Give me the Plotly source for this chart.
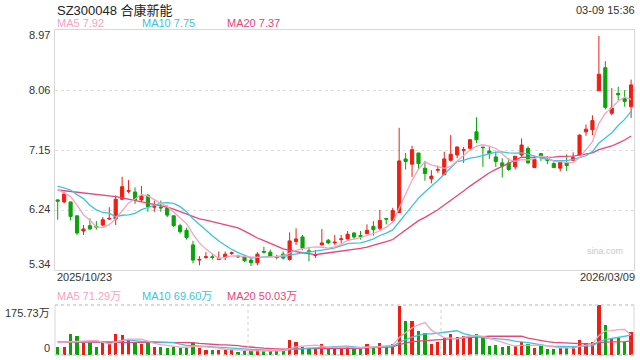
import plotly.graph_objects as go

# ---------------- data ----------------
opens = [6.40, 6.37, 6.37, 6.16, 5.93, 6.01, 6.00, 6.02, 6.11, 6.11,
         6.41, 6.53, 6.52, 6.40, 6.47, 6.29, 6.29, 6.28, 6.16, 6.01,
         5.94, 5.72, 5.49, 5.53, 5.54, 5.50, 5.53, 5.59, 5.55, 5.54,
         5.49, 5.45, 5.62, 5.61, 5.54, 5.58, 5.50, 5.77, 5.84, 5.63,
         5.56, 5.72, 5.79, 5.75, 5.80, 5.81, 5.90, 5.86, 5.89, 6.00,
         5.97, 6.12, 6.09, 6.21, 7.02, 6.94, 7.11, 6.88, 6.72, 6.85,
         6.78, 7.00, 7.08, 7.15, 7.18, 7.43, 7.20, 7.14, 7.05, 6.96,
         6.96, 6.90, 7.08, 7.18, 6.89, 7.10, 7.01, 6.95, 6.88, 6.96,
         7.00, 7.08, 7.43, 7.46, 8.05, 8.40, 7.71, 8.01, 7.93, 7.81]
highs = [6.41, 6.52, 6.37, 6.16, 6.02, 6.12, 6.08, 6.14, 6.29, 6.47,
         6.75, 6.70, 6.59, 6.61, 6.49, 6.39, 6.39, 6.32, 6.17, 6.04,
         5.98, 5.78, 5.55, 5.61, 5.58, 5.62, 5.62, 5.62, 5.57, 5.56,
         5.52, 5.61, 5.69, 5.65, 5.57, 5.62, 5.91, 5.97, 5.87, 5.69,
         5.64, 5.96, 5.81, 5.87, 5.87, 5.93, 5.91, 5.93, 6.03, 6.08,
         6.25, 6.12, 6.28, 7.49, 7.11, 7.22, 7.11, 6.99, 6.85, 6.92,
         7.13, 7.38, 7.21, 7.20, 7.32, 7.65, 7.20, 7.20, 7.13, 7.03,
         7.03, 7.06, 7.33, 7.21, 7.06, 7.11, 7.06, 6.97, 6.99, 7.09,
         7.12, 7.39, 7.54, 7.68, 8.88, 8.50, 8.09, 8.11, 8.06, 8.22]
lows = [6.10, 6.35, 6.09, 5.87, 5.87, 5.95, 5.95, 6.00, 6.10, 6.02,
        6.40, 6.50, 6.34, 6.37, 6.22, 6.22, 6.22, 6.14, 5.99, 5.89,
        5.80, 5.44, 5.41, 5.51, 5.50, 5.49, 5.49, 5.57, 5.52, 5.46,
        5.40, 5.41, 5.59, 5.53, 5.50, 5.50, 5.48, 5.72, 5.64, 5.47,
        5.52, 5.71, 5.73, 5.72, 5.74, 5.80, 5.80, 5.80, 5.88, 5.86,
        5.94, 6.03, 6.07, 6.20, 6.86, 6.75, 6.86, 6.69, 6.65, 6.81,
        6.78, 6.98, 7.03, 6.96, 7.17, 7.26, 6.90, 7.02, 6.90, 6.74,
        6.84, 6.86, 7.05, 6.95, 6.88, 6.99, 6.94, 6.89, 6.83, 6.84,
        6.99, 7.07, 7.37, 7.38, 8.05, 7.77, 7.68, 7.91, 7.81, 7.64]
closes = [6.38, 6.49, 6.15, 5.90, 5.96, 5.96, 5.99, 6.10, 6.12, 6.41,
          6.60, 6.54, 6.40, 6.46, 6.30, 6.30, 6.28, 6.17, 6.01, 5.92,
          5.83, 5.49, 5.50, 5.54, 5.53, 5.51, 5.58, 5.60, 5.54, 5.48,
          5.45, 5.58, 5.61, 5.55, 5.53, 5.52, 5.78, 5.81, 5.67, 5.62,
          5.57, 5.75, 5.75, 5.76, 5.81, 5.88, 5.84, 5.85, 5.94, 5.95,
          6.09, 6.11, 6.24, 6.99, 6.98, 7.16, 6.95, 6.80, 6.76, 6.86,
          7.02, 7.09, 7.20, 7.16, 7.31, 7.31, 7.19, 7.10, 6.98, 6.91,
          6.86, 7.06, 7.23, 6.96, 7.01, 7.04, 7.00, 6.89, 6.97, 6.92,
          7.04, 7.38, 7.47, 7.60, 8.30, 7.80, 7.79, 7.99, 7.89, 8.14]
volumes = [29, 29, 74, 67, 43, 43, 29, 41, 41, 74,
           70, 53, 41, 39, 43, 29, 29, 26, 29, 26,
           26, 43, 26, 18, 18, 18, 18, 21, 9, 14,
           14, 18, 14, 15, 15, 15, 53, 44, 29, 23,
           23, 37, 23, 29, 25, 29, 23, 21, 39, 27,
           41, 29, 37, 172, 119, 119, 84, 76, 39, 47,
           59, 74, 64, 68, 64, 74, 59, 32, 35, 27,
           32, 32, 44, 37, 26, 33, 21, 21, 26, 26,
           27, 53, 43, 44, 175.73, 105, 59, 61, 47, 80]

# moving-average values before enough in-window data exists
ma5_head = [6.56, 6.50, 6.45, 6.32]
ma10_head = [6.61, 6.58, 6.55, 6.48, 6.42, 6.32, 6.25, 6.21, 6.20]
ma20_head = [6.55, 6.54, 6.53, 6.52, 6.51, 6.50, 6.48, 6.47, 6.46, 6.45,
             6.43, 6.41, 6.40, 6.38, 6.36, 6.34, 6.31, 6.29, 6.26]
vma5_head = [44, 45, 47, 48]
vma10_head = [47, 47, 47, 47, 47, 47, 47, 47, 47]
vma20_head = [45, 45, 45, 45, 45, 45, 44, 44, 44, 44,
              44, 44, 44, 44, 43, 43, 43, 43, 43]

# legend texts as shown on the chart
price_legend = ["MA5 7.92", "MA10 7.75", "MA20 7.37"]
vol_legend = ["MA5 71.29万", "MA10 69.60万", "MA20 50.03万"]

price_ticks = [8.97, 8.06, 7.15, 6.24, 5.34]
vol_max_label = "175.73万"
date_labels = ["2025/10/23", "2026/03/09"]
title_text = "SZ300048 合康新能"
time_text = "03-09 15:36"

# ---------------- helpers ----------------
def ma(vals, n, head):
    out = list(head)
    for i in range(len(head), len(vals)):
        out.append(sum(vals[i - n + 1:i + 1]) / n)
    return out

idx = list(range(len(closes)))
RED = "#f01e12"
GREEN = "#0aa30a"
C5 = "#f7a3c0"
C10 = "#3cc3e0"
C20 = "#ea4479"
FONT = "Arial, 'Liberation Sans', 'Noto Sans CJK SC', sans-serif"

ma5 = ma(closes, 5, ma5_head)
ma10 = ma(closes, 10, ma10_head)
ma20 = ma(closes, 20, ma20_head)
vma5 = ma(volumes, 5, vma5_head)
vma10 = ma(volumes, 10, vma10_head)
vma20 = ma(volumes, 20, vma20_head)

vol_colors = [RED if c >= o else GREEN for o, c in zip(opens, closes)]

fig = go.Figure()
fig.add_trace(go.Candlestick(
    x=idx, open=opens, high=highs, low=lows, close=closes,
    increasing=dict(line=dict(color=RED, width=1), fillcolor=RED),
    decreasing=dict(line=dict(color=GREEN, width=1), fillcolor=GREEN),
    whiskerwidth=0, xaxis="x", yaxis="y", hoverinfo="skip"))
for series, col in ((ma20, C20), (ma10, C10), (ma5, C5)):
    fig.add_trace(go.Scatter(x=idx, y=series, mode="lines",
                             line=dict(color=col, width=1.3),
                             xaxis="x", yaxis="y", hoverinfo="skip"))

fig.add_trace(go.Bar(x=idx, y=volumes, marker=dict(color=vol_colors, line=dict(width=0)),
                     width=0.5, xaxis="x2", yaxis="y2", hoverinfo="skip"))
for series, col in ((vma20, C20), (vma10, C10), (vma5, C5)):
    fig.add_trace(go.Scatter(x=idx, y=series, mode="lines",
                             line=dict(color=col, width=1.3),
                             xaxis="x2", yaxis="y2", hoverinfo="skip"))

W, H = 640, 360
L, R = 55, 634
PT, PB = 30, 270
VT, VB = 305, 355
xd = [L / W, R / W]
xr = [-0.42, 89.45]

fig.update_layout(
    width=W, height=H, margin=dict(l=0, r=0, t=0, b=0),
    paper_bgcolor="white", plot_bgcolor="white", showlegend=False,
    font=dict(family=FONT, size=11, color="#333"),
    bargap=0,
    xaxis=dict(domain=xd, range=xr, showticklabels=False, showgrid=False,
               zeroline=False, showline=True, mirror=True, linecolor="#d8d8d8",
               linewidth=1, rangeslider=dict(visible=False), anchor="y", fixedrange=True),
    yaxis=dict(domain=[1 - PB / H, 1 - PT / H], range=[price_ticks[-1], price_ticks[0]],
               tickvals=price_ticks[1:-1], showticklabels=False, showgrid=True,
               gridcolor="#dedede", griddash="dot", gridwidth=1, zeroline=False,
               showline=True, mirror=True, linecolor="#d8d8d8", anchor="x"),
    xaxis2=dict(domain=xd, range=xr, showticklabels=False, showgrid=False,
                zeroline=False, showline=False, anchor="y2"),
    yaxis2=dict(domain=[1 - VB / H, 1 - VT / H], range=[0, volumes[84]],
                showticklabels=False, showgrid=False, zeroline=False,
                showline=False, anchor="x2"),
)

def px(xp):
    return xp / W

def py(yp):
    return 1 - yp / H

shapes = []
# volume pane borders
shapes.append(dict(type="line", xref="paper", yref="paper", x0=px(L), x1=px(L),
                   y0=py(VB), y1=py(VT), line=dict(color="#d8d8d8", width=1)))
shapes.append(dict(type="line", xref="paper", yref="paper", x0=px(R), x1=px(R),
                   y0=py(VB), y1=py(VT), line=dict(color="#d8d8d8", width=1)))
for yy in (VT, VB):
    shapes.append(dict(type="line", xref="paper", yref="paper", x0=px(L), x1=px(R),
                       y0=py(yy), y1=py(yy), line=dict(color="#cfcfcf", width=1.5, dash="dot")))
for frac in (1 / 3, 2 / 3):
    xx = L + (R - L) * frac
    shapes.append(dict(type="line", xref="paper", yref="paper", x0=px(xx), x1=px(xx),
                       y0=py(VB), y1=py(VT), line=dict(color="#d0d0d0", width=1, dash="dot")))
fig.update_layout(shapes=shapes)

ann = []
def text(x, y, s, color="#333", size=11, xanchor="left"):
    ann.append(dict(x=px(x), y=py(y), xref="paper", yref="paper", text=s,
                    showarrow=False, xanchor=xanchor, yanchor="middle",
                    font=dict(color=color, size=size, family=FONT)))

text(55, 10, title_text, "#222", 13)
text(637, 10, time_text, "#333", 11, "right")
for s, xx, col in zip(price_legend, (55, 140, 225), (C5, C10, C20)):
    text(xx, 23, s, col)
ypos = [35, 90, 150, 209, 264]
for v, yy in zip(price_ticks, ypos):
    text(52, yy, f"{v:.2f}", "#333", 11, "right")
text(55, 277, date_labels[0], "#333", 11)
text(637, 277, date_labels[1], "#333", 11, "right")
for s, xx, col in zip(vol_legend, (55, 140, 225), (C5, C10, C20)):
    text(xx, 296, s, col)
text(52, 313, vol_max_label, "#333", 11, "right")
text(52, 348, "0", "#333", 11, "right")
text(625, 251, "sina.com", "#c8c8c8", 9, "right")
fig.update_layout(annotations=ann)

fig.write_html("out.html")
